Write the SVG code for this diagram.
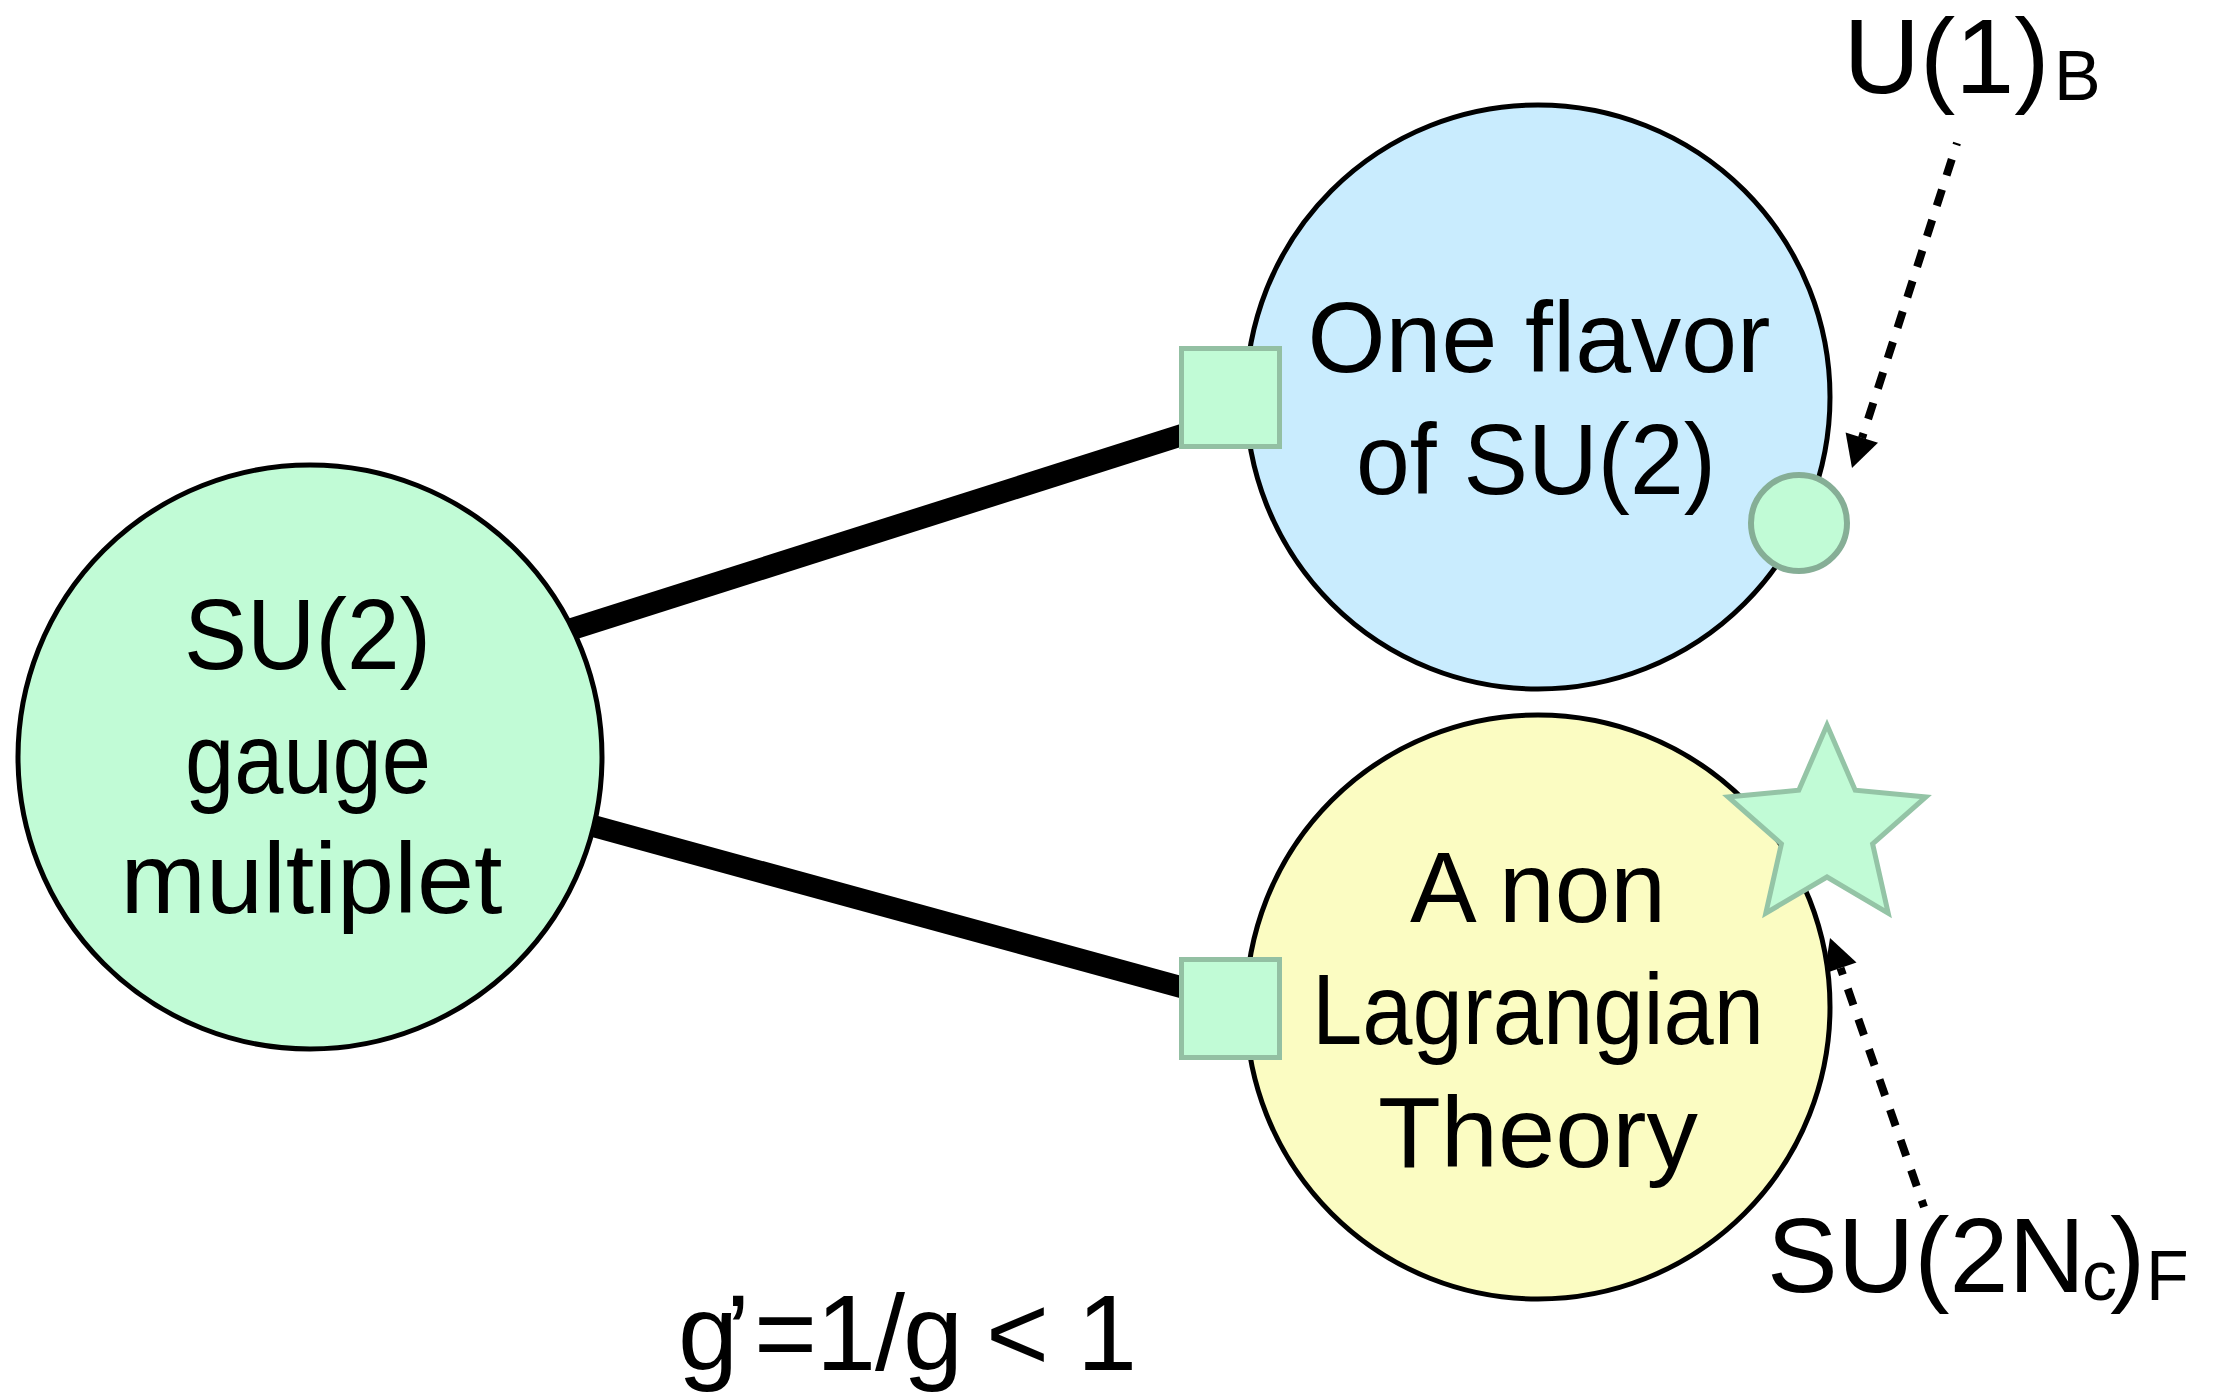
<svg xmlns="http://www.w3.org/2000/svg" width="2215" height="1398" viewBox="0 0 2215 1398">
<style>
.bg{fill:#ffffff}
.big{stroke:#000;stroke-width:5}
.green{fill:#c1fbd6}
.blue{fill:#c9ecfe}
.yellow{fill:#fbfcc2}
.port{fill:#c1fbd6;stroke:#93c0a3;stroke-width:5}
.sym{fill:#c1fbd6;stroke:#86ae96;stroke-width:6}
.star{fill:#c1fbd6;stroke:#94c4a6;stroke-width:5;stroke-linejoin:miter}
.t{font-family:"Liberation Sans",Arial,sans-serif;font-size:100px;fill:#000;text-anchor:middle}
.lab{font-family:"Liberation Sans",Arial,sans-serif;font-size:106px;fill:#000}
.sub{font-size:70px}
.thick{stroke:#000;stroke-width:22;fill:none}
.dash{stroke:#000;stroke-width:8;fill:none;stroke-dasharray:17 15}
.head{fill:#000}
</style>
<defs>
<clipPath id="clipU"><rect x="1800" y="15" width="400" height="102"/></clipPath>
<clipPath id="clipSU"><rect x="1740" y="1215" width="470" height="102"/></clipPath>
</defs>
<rect class="bg" x="0" y="0" width="2215" height="1398"/>
<g id="connectors">
<line class="thick" x1="450" y1="667.8" x2="1230" y2="419.8"/>
<line class="thick" x1="450" y1="786.8" x2="1230" y2="1000.5"/>
<line class="dash" x1="1957" y1="143" x2="1862" y2="438" stroke-dashoffset="15"/>
<polygon class="head" points="1852,468 1878,442.8 1845.6,432.4"/>
<line class="dash" x1="1924" y1="1207" x2="1840.5" y2="968" stroke-dashoffset="10"/>
<polygon class="head" points="1830,938 1856.5,962.4 1824.5,973.6"/>
</g>
<g id="node-su2-gauge">
<circle class="big green" cx="310" cy="757" r="292"/>
<text class="t" x="307.5" y="669" textLength="247" lengthAdjust="spacingAndGlyphs">SU(2)</text>
<text class="t" x="308" y="793" textLength="246" lengthAdjust="spacingAndGlyphs">gauge</text>
<text class="t" x="311.5" y="913" textLength="382" lengthAdjust="spacingAndGlyphs">multiplet</text>
</g>
<g id="node-one-flavor">
<circle class="big blue" cx="1538" cy="397" r="292"/>
<text class="t" x="1539" y="372" textLength="463" lengthAdjust="spacingAndGlyphs">One flavor</text>
<text class="t" x="1536" y="494" textLength="360" lengthAdjust="spacingAndGlyphs">of SU(2)</text>
</g>
<g id="node-non-lagrangian">
<circle class="big yellow" cx="1538" cy="1007" r="292"/>
<text class="t" x="1538" y="922">A non</text>
<text class="t" x="1538" y="1044" textLength="452" lengthAdjust="spacingAndGlyphs">Lagrangian</text>
<text class="t" x="1538" y="1167" textLength="320" lengthAdjust="spacingAndGlyphs">Theory</text>
</g>
<g id="port-top">
<rect class="port" x="1181.5" y="348.5" width="98" height="98"/>
</g>
<g id="port-bottom">
<rect class="port" x="1181.5" y="959.5" width="98" height="98"/>
</g>
<g id="u1-symmetry">
<circle class="sym" cx="1799" cy="523" r="48"/>
</g>
<g id="su2nc-symmetry">
<polygon class="star" points="1827,725 1855.2,790.2 1925.9,796.9 1872.6,843.8 1888.2,913.1 1827,877 1765.8,913.1 1781.4,843.8 1728.1,796.9 1798.8,790.2"/>
</g>
<g id="label-u1b" clip-path="url(#clipU)">
<text class="lab" x="1843.5" y="93">U(1)<tspan class="sub" x="2054" y="100">B</tspan></text>
</g>
<g id="label-su2ncf" clip-path="url(#clipSU)">
<text class="lab" x="1767" y="1292">SU(2N<tspan class="sub" x="2082" y="1300">c</tspan><tspan x="2110" y="1292">)</tspan><tspan class="sub" x="2146" y="1300">F</tspan></text>
</g>
<g id="label-coupling">
<text class="lab" style="font-size:108px" x="678 726 754 816 875 903 955 986 1040 1077" y="1370">g’=1/g &lt; 1</text>
</g>
</svg>
